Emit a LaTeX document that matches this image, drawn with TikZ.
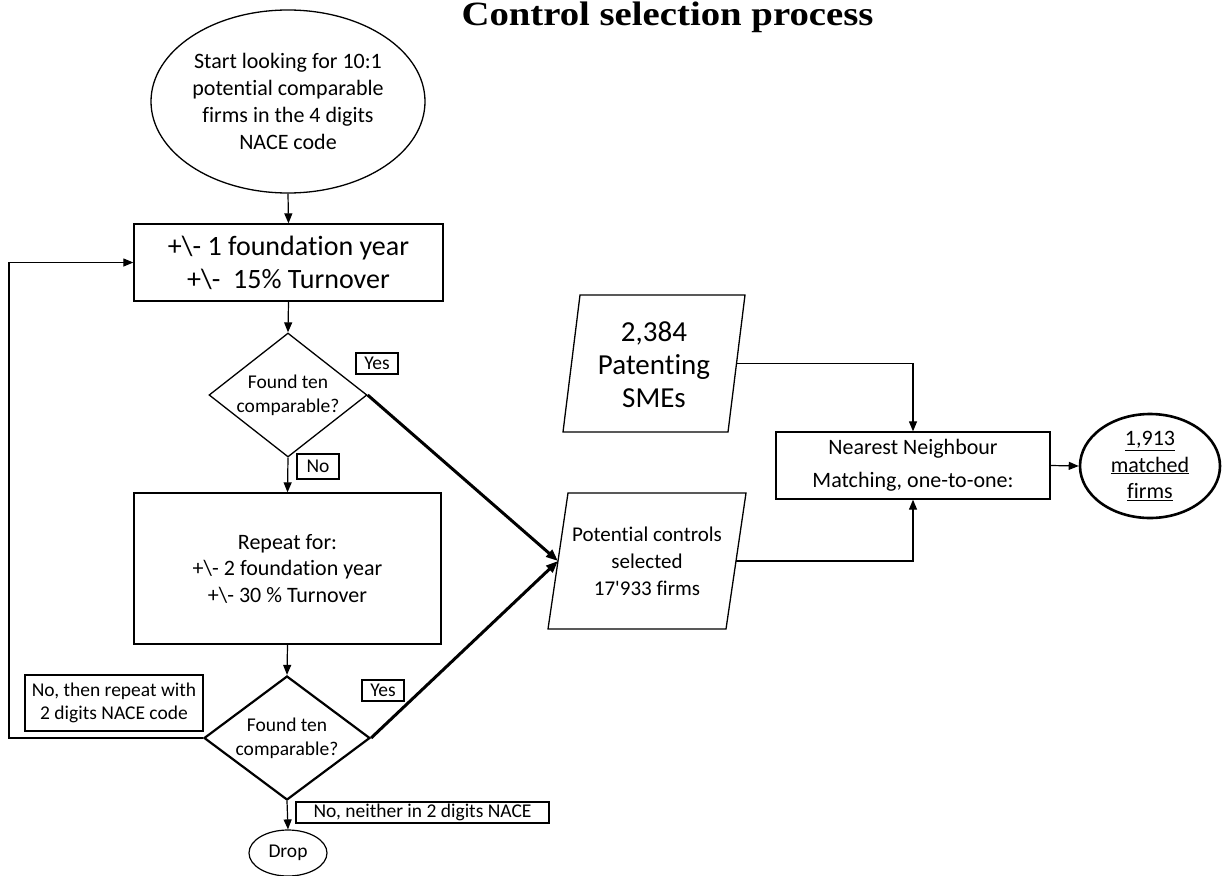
\documentclass[tikz,border=0pt]{standalone}
\usepackage{fontspec}
\setmainfont{Carlito}[Ligatures=CommonOff]
\newfontfamily\titlefont{Liberation Serif}
\usetikzlibrary{shapes.geometric,arrows.meta}

\begin{document}
\begin{tikzpicture}[x=1pt,y=-1pt,
  arr/.style={line width=1.2pt,-{Triangle[length=10pt,width=8pt]}},
  thickarr/.style={line width=3pt,-{Triangle[length=12pt,width=9pt]}},
  box/.style={draw,line width=1.3pt,inner sep=0pt,align=center},
  lbl/.style={draw,line width=1.1pt,inner sep=0pt,align=center,font=\fontsize{19.5}{23}\selectfont},
  dia/.style={draw,diamond,inner sep=0pt},
  ell/.style={draw,ellipse,inner sep=0pt,align=center},
  para/.style={draw,line width=1.3pt,line join=miter}
]
\useasboundingbox (0,0) rectangle (1222,875);

% title
\node[font=\titlefont\bfseries\fontsize{34}{40}\selectfont, anchor=base, inner sep=0pt] (title) at (667.5,26) {\scalebox{1.14}[1]{Control selection process}};

% start ellipse
\node[ell, line width=1.3pt, minimum width=274pt, minimum height=183pt,
  font=\fontsize{22}{27}\selectfont] (start) at (288,101.5)
  {Start looking for 10:1\\potential comparable\\firms in the 4 digits\\NACE code};

% box 1
\node[box, minimum width=309pt, minimum height=77pt,
  font=\fontsize{28}{33}\selectfont] (b1) at (288.5,262.5)
  {+\textbackslash- 1 foundation year\\+\textbackslash-\ \ 15\% Turnover};

% diamond 1
\node[dia, line width=1.3pt, minimum width=158pt, minimum height=124pt] (d1) at (288,395) {};
\node[align=center, inner sep=0pt, font=\fontsize{19.5}{24}\selectfont] (d1t) at (d1.center) {Found ten\\comparable?};

% box 2
\node[box, minimum width=307pt, minimum height=151pt,
  font=\fontsize{22}{26.5}\selectfont] (b2) at (287.5,568.5)
  {Repeat for:\\+\textbackslash- 2 foundation year\\+\textbackslash- 30 \% Turnover};

% diamond 2
\node[dia, line width=2.2pt, minimum width=166pt, minimum height=124pt] (d2) at (287,738) {};
\node[align=center, inner sep=0pt, font=\fontsize{19.5}{24}\selectfont] (d2t) at (d2.center) {Found ten\\comparable?};

% drop
\node[ell, line width=1.2pt, minimum width=78pt, minimum height=46pt,
  font=\fontsize{19.5}{23}\selectfont] (drop) at (288,853) {Drop};

% labels
\node[lbl, minimum width=42pt, minimum height=21pt] (yes1) at (377,363.5) {Yes};
\node[lbl, minimum width=42pt, minimum height=25pt] (no1) at (318,466.5) {No};
\node[lbl, minimum width=42pt, minimum height=21pt] (yes2) at (383,690.5) {Yes};
\node[lbl, minimum width=178pt, minimum height=56pt] (nothen) at (114,703) {No, then repeat with\\2 digits NACE code};
\node[lbl, minimum width=253pt, minimum height=21pt] (noneither) at (422.5,812.5) {No, neither in 2 digits NACE};

% patenting parallelogram
\coordinate (pat-tl) at (580,295);
\coordinate (pat-tr) at (745,295);
\coordinate (pat-br) at (728,432);
\coordinate (pat-bl) at (563,432);
\coordinate (pat-e) at (736.5,363.5);
\draw[para] (pat-tl) -- (pat-tr) -- (pat-br) -- (pat-bl) -- cycle;
\node[align=center, inner sep=0pt, font=\fontsize{29}{33}\selectfont] (pat) at (654,365) {2,384\\Patenting\\SMEs};

% potential controls parallelogram
\coordinate (pc-tl) at (568,493);
\coordinate (pc-tr) at (746,493);
\coordinate (pc-br) at (726,629);
\coordinate (pc-bl) at (548,629);
\coordinate (pc-w) at (558,561);
\coordinate (pc-e) at (736,561);
\draw[para] (pc-tl) -- (pc-tr) -- (pc-br) -- (pc-bl) -- cycle;
\node[align=center, inner sep=0pt, font=\fontsize{21}{27}\selectfont] (pc) at (647,561) {Potential controls\\selected\\17\textquotesingle 933 firms};

% nearest neighbour box
\node[box, minimum width=274pt, minimum height=67pt,
  font=\fontsize{22}{33}\selectfont] (nn) at (913,465.5)
  {Nearest Neighbour\\Matching, one-to-one:};

% matched firms
\node[ell, line width=2.6pt, minimum width=140pt, minimum height=104pt,
  font=\fontsize{22}{26.5}\selectfont] (mf) at (1150,466)
  {\underline{1,913}\\\underline{matched}\\\underline{firms}};

% connectors
\draw[arr] (start.south) -- (b1.north);
\draw[arr] (b1.south) -- (d1.north);
\draw[arr] (d1.south) -- (b2.north);
\draw[arr] (b2.south) -- (d2.north);
\draw[arr] (d2.south) -- (drop.north);
\coordinate (loopc) at (9,738);
\draw[arr] (d2.west) -- (loopc) |- (b1.west);
\draw[thickarr] (d1.east) -- (pc-w);
\draw[thickarr] (d2.east) -- (pc-w);
\draw[arr] (pat-e) -| (nn.north);
\draw[arr] (pc-e) -| (nn.south);
\draw[arr] (nn.east) -- (mf.west);
\end{tikzpicture}
\end{document}
